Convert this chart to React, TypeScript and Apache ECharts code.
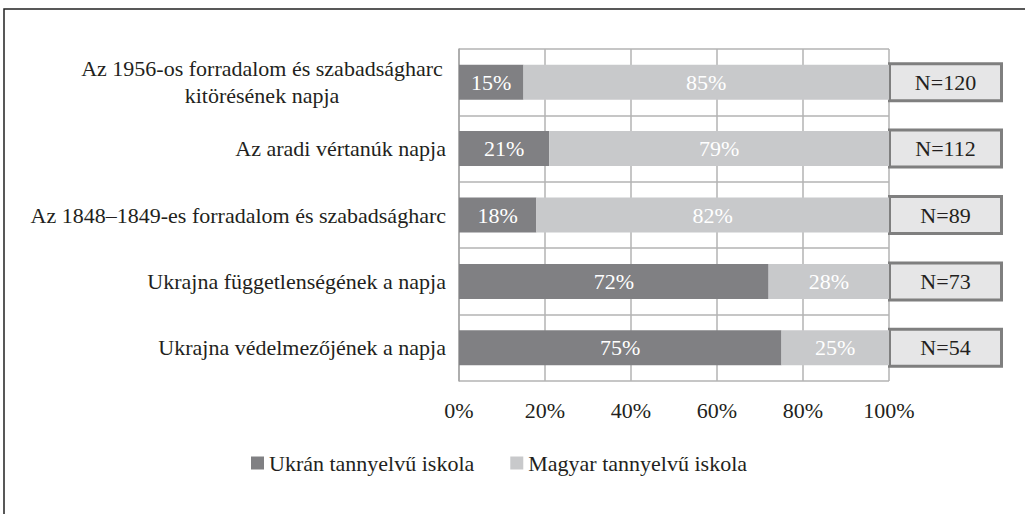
import React, { useEffect, useRef } from "react";
import * as echarts from "echarts";

const categories = [
  "Az 1956-os forradalom és szabadságharc\nkitörésének napja",
  "Az aradi vértanúk napja",
  "Az 1848–1849-es forradalom és szabadságharc",
  "Ukrajna függetlenségének a napja",
  "Ukrajna védelmezőjének a napja",
];
const ukranValues = [15, 21, 18, 72, 75];
const magyarValues = [85, 79, 82, 28, 25];
const nValues = [120, 112, 89, 73, 54];
const seriesNames = ["Ukrán tannyelvű iskola", "Magyar tannyelvű iskola"];
const xTicks = [0, 20, 40, 60, 80, 100];

const FONT = "'Liberation Serif', 'DejaVu Serif', serif";
const TEXT = "#231f20";
const DARK = "#808083";
const LIGHT = "#c8c9cb";
const FS = 22;

export default function App() {
  const ref = useRef<HTMLDivElement>(null);
  useEffect(() => {
    if (!ref.current) return;
    const chart = echarts.init(ref.current, null, { renderer: "svg" });
    const option: any = {
      animation: false,
      backgroundColor: "#ffffff",
      textStyle: { fontFamily: FONT, color: TEXT },
      grid: { left: 459, right: 136, top: 49, bottom: 133, containLabel: false },
      legend: {
        left: 251,
        top: 452,
        padding: 0,
        itemWidth: 13,
        itemHeight: 13,
        itemGap: 36,
        icon: "rect",
        textStyle: { fontFamily: FONT, fontSize: FS, color: TEXT },
        data: seriesNames,
      },
      xAxis: {
        type: "value",
        min: xTicks[0],
        max: xTicks[xTicks.length - 1],
        interval: 20,
        axisLine: { show: false },
        axisTick: { show: false },
        axisLabel: {
          margin: 18,
          fontFamily: FONT,
          fontSize: FS,
          color: TEXT,
          formatter: (v: number) => v + "%",
        },
        splitLine: { show: true, lineStyle: { color: "#b3b3b3", width: 1.5 } },
      },
      yAxis: {
        type: "category",
        inverse: true,
        data: categories,
        axisLine: { show: true, lineStyle: { color: "#a6a6a6", width: 1.5 } },
        axisTick: { show: false },
        splitLine: { show: true, lineStyle: { color: "#b3b3b3", width: 1.5 } },
        axisLabel: {
          margin: 13,
          fontFamily: FONT,
          fontSize: FS,
          color: TEXT,
          lineHeight: 27,
          formatter: (v: string) => {
            if (v.indexOf("\n") >= 0) {
              return v
                .split("\n")
                .map((l) => "{c|" + l + "}")
                .join("\n");
            }
            return v;
          },
          rich: {
            c: {
              width: 368,
              align: "center",
              fontFamily: FONT,
              fontSize: FS,
              color: TEXT,
              lineHeight: 27,
            },
          },
        },
      },
      series: [
        {
          name: seriesNames[0],
          type: "bar",
          stack: "s",
          barWidth: 35,
          itemStyle: { color: DARK },
          label: {
            show: true,
            position: "inside",
            color: "#ffffff",
            fontFamily: FONT,
            fontSize: FS,
            formatter: (p: any) => p.value + "%",
          },
          data: ukranValues,
        },
        {
          name: seriesNames[1],
          type: "bar",
          stack: "s",
          barWidth: 35,
          itemStyle: { color: LIGHT },
          label: {
            show: true,
            position: "inside",
            color: "#ffffff",
            fontFamily: FONT,
            fontSize: FS,
            formatter: (p: any) => p.value + "%",
          },
          data: magyarValues,
        },
        {
          name: "N",
          type: "custom",
          clip: false,
          silent: true,
          data: nValues.map((n, i) => [100, i, n]),
          encode: { x: 0, y: 1 },
          renderItem: (params: any, api: any) => {
            const c = api.coord([api.value(0), api.value(1)]);
            const w = 112;
            const h = 37;
            return {
              type: "group",
              children: [
                {
                  type: "rect",
                  shape: { x: c[0] + 0.5, y: c[1] - h / 2, width: w, height: h },
                  style: { fill: "#e6e6e7", stroke: "#7f7f7f", lineWidth: 3 },
                },
                {
                  type: "text",
                  x: c[0] + 0.5 + w / 2,
                  y: c[1],
                  style: {
                    text: "N=" + api.value(2),
                    fill: TEXT,
                    font: FS + "px " + FONT,
                    align: "center",
                    verticalAlign: "middle",
                  },
                },
              ],
            };
          },
        },
      ],
      graphic: [
        {
          type: "rect",
          shape: { x: 4, y: 9, width: 1100, height: 600 },
          style: { fill: "none", stroke: "#222222", lineWidth: 1.5 },
          silent: true,
        },
      ],
    };
    chart.setOption(option);
    return () => chart.dispose();
  }, []);
  return (
    <div
      ref={ref}
      style={{ position: "absolute", left: 0, top: 0, width: 1025, height: 514 }}
    />
  );
}
